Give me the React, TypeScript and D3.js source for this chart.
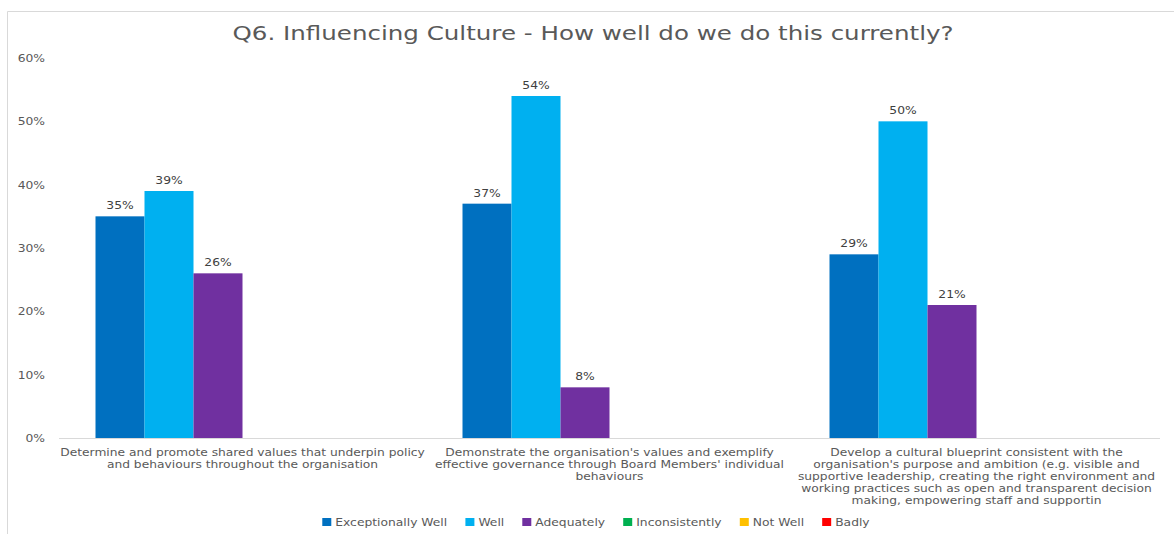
import React, { useEffect, useRef } from "react";
import * as d3 from "d3";

const title = "Q6. Influencing Culture - How well do we do this currently?";
const categories = [
  "Determine and promote shared values that underpin policy\nand behaviours throughout the organisation",
  "Demonstrate the organisation's values and exemplify\neffective governance through Board Members' individual\nbehaviours",
  "Develop a cultural blueprint consistent with the\norganisation's purpose and ambition (e.g. visible and\nsupportive leadership, creating the right environment and\nworking practices such as open and transparent decision\nmaking, empowering staff and supportin",
];
const seriesNames = ["Exceptionally Well", "Well", "Adequately", "Inconsistently", "Not Well", "Badly"];
const seriesColors = ["#0070C0", "#00B0F0", "#7030A0", "#00B050", "#FFC000", "#FF0000"];
const exceptionallyWell = [35, 37, 29];
const well = [39, 54, 50];
const adequately = [26, 8, 21];
const inconsistently = [0, 0, 0];
const notWell = [0, 0, 0];
const badly = [0, 0, 0];
const yTicks = [0, 10, 20, 30, 40, 50, 60];

const FONT = "'DejaVu Sans', sans-serif";
const SX = 1.12;
const SX_CAT = 1.17;

export default function App() {
  const ref = useRef<SVGSVGElement>(null);
  useEffect(() => {
    const svg = d3.select(ref.current);
    svg.selectAll("*").remove();
    const W = 1174, H = 534;
    const series = [exceptionallyWell, well, adequately, inconsistently, notWell, badly];
    const left = 59, right = 1160, top = 58, bottom = 438;

    const stext = (x: number, y: number, sx: number, size: number, anchor: string, fill: string, s: string) =>
      svg.append("text").attr("transform", `translate(${x},${y}) scale(${sx},1)`)
        .attr("text-anchor", anchor).attr("font-family", FONT).attr("font-size", size)
        .attr("fill", fill).text(s);

    svg.append("rect").attr("width", W).attr("height", H).attr("fill", "#fff");
    svg.append("path").attr("d", `M7.5,${H} V11.5 H${W}`).attr("fill", "none").attr("stroke", "#d9d9d9");

    svg.append("text").attr("x", 593).attr("y", 40).attr("text-anchor", "middle")
      .attr("font-family", FONT).attr("font-size", 20).attr("fill", "#595959")
      .attr("textLength", 721).attr("lengthAdjust", "spacingAndGlyphs").text(title);

    const y = d3.scaleLinear().domain([0, 60]).range([bottom, top]);
    const x0 = d3.scaleBand<number>().domain(d3.range(categories.length)).range([left, right]).paddingInner(0).paddingOuter(0);
    const innerPad = (x0.bandwidth() - 49 * 6) / 2;
    const x1 = d3.scaleBand<number>().domain(d3.range(series.length)).range([innerPad, x0.bandwidth() - innerPad]).padding(0);

    yTicks.forEach((t) => {
      stext(45, y(t) + 4, SX, 11, "end", "#595959", `${t}%`);
    });

    categories.forEach((c, ci) => {
      const gx = x0(ci)!;
      series.forEach((s, si) => {
        const v = s[ci];
        if (v <= 0) return;
        svg.append("rect").attr("x", gx + x1(si)!).attr("y", y(v)).attr("width", x1.bandwidth())
          .attr("height", y(0) - y(v)).attr("fill", seriesColors[si]);
        stext(gx + x1(si)! + x1.bandwidth() / 2, y(v) - 7, SX, 11, "middle", "#404040", `${v}%`);
      });
      c.split("\n").forEach((l, li) => {
        stext(gx + x0.bandwidth() / 2, 456 + li * 12, SX_CAT, 10.5, "middle", "#595959", l);
      });
    });

    svg.append("line").attr("x1", left).attr("x2", right).attr("y1", bottom + 0.5).attr("y2", bottom + 0.5)
      .attr("stroke", "#d9d9d9");

    // legend
    const canvas = document.createElement("canvas");
    const ctx = canvas.getContext("2d")!;
    ctx.font = `11px ${FONT}`;
    const widths = seriesNames.map((n) => 13 + ctx.measureText(n).width * SX + 18);
    const total = d3.sum(widths) - 18;
    let lx = 596 - total / 2;
    seriesNames.forEach((n, i) => {
      svg.append("rect").attr("x", lx).attr("y", 518).attr("width", 9).attr("height", 8).attr("fill", seriesColors[i]);
      stext(lx + 13, 526, SX, 11, "start", "#595959", n);
      lx += widths[i];
    });
  }, []);
  return <svg ref={ref} width={1174} height={534} style={{ position: "absolute", left: 0, top: 0 }} />;
}
